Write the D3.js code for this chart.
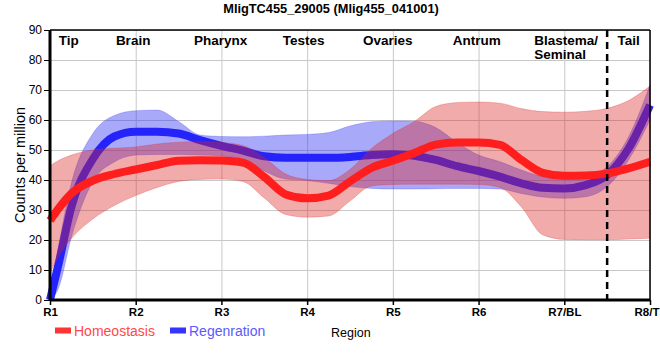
<!DOCTYPE html>
<html>
<head>
<meta charset="utf-8">
<script src="https://cdn.jsdelivr.net/npm/d3@7/dist/d3.min.js"></script>
<style>
  html, body { margin: 0; padding: 0; background: #fff; }
  svg { display: block; font-family: "Liberation Sans", Arial, sans-serif; }
</style>
</head>
<body>
<svg id="chart" width="660" height="360"></svg>
<script>
// ---- data ----
const title = "MligTC455_29005 (Mlig455_041001)";
const xTickValues = [1, 2, 3, 4, 5, 6, 7, 8];
const xTickLabels = ["R1", "R2", "R3", "R4", "R5", "R6", "R7/BL", "R8/TL"];
const yTickValues = [0, 10, 20, 30, 40, 50, 60, 70, 80, 90];
const regionNames = ["Tip", "Brain", "Pharynx", "Testes", "Ovaries", "Antrum", "Tail"];
const regionPos   = [1.22, 1.97, 2.99, 3.96, 4.94, 5.98, 7.75];
const blastemaLines = ["Blastema/", "Seminal"];
const blastemaPos = 6.65;
const dividerPos = 7.5;
const seriesNames = ["Homeostasis", "Regenration"];

const positions = [1, 1.1, 1.25, 1.5, 1.75, 2, 2.25, 2.5, 2.75, 3, 3.25, 3.5, 3.75, 4, 4.25,
                   4.5, 4.75, 5, 5.25, 5.5, 5.75, 6, 6.25, 6.5, 6.75, 7, 7.25, 7.5, 7.75, 8];

const homeoMean = [26.5, 30.5, 35.5, 39.8, 42, 43.5, 45, 46.4, 46.6, 46.5, 45.8, 41, 35.2, 33.9, 34.8,
                   39.5, 44, 46.4, 49, 51.8, 52.5, 52.5, 51.7, 46.7, 42.4, 41.4, 41.5, 42.2, 43.9, 46.1];
const homeoLow  = [9, 14.5, 20.5, 27, 31.5, 34.8, 37.5, 39.5, 40.2, 40.3, 39.5, 34, 28.5, 27.6, 28,
                   33, 38, 38.5, 38.6, 38.6, 38.6, 38.5, 37.5, 31, 21.7, 20.2, 20.1, 20.1, 20.3, 20.6];
const homeoHigh = [44.7, 46.5, 48.3, 50, 50.6, 51, 52, 52.6, 52.8, 52.5, 51.5, 47.5, 42, 40.2, 39.8,
                   43.5, 50.5, 55.5, 59.5, 64.5, 65.8, 66, 65.6, 63.8, 62.8, 62.6, 62.9, 63.9, 66.5, 71.3];

const regenMean = [0, 12, 31, 47, 54.5, 56.1, 56.1, 55.5, 53.3, 51.4, 49.8, 47.9, 47.4, 47.4, 47.4,
                   47.7, 48.3, 48.6, 48.1, 46.7, 44.6, 43, 41.1, 38.9, 37.4, 37.2, 38.3, 41.7, 50.5, 65];
const regenLow  = [0, 4, 21, 39.5, 46, 48.3, 48.5, 48.5, 48.3, 48, 47, 43, 40.3, 39.8, 38.9,
                   37.8, 37.2, 37, 37, 37.1, 37.2, 37.2, 37, 35.5, 34.3, 33.9, 34.4, 37.8, 46.7, 60];
const regenHigh = [2, 18, 39, 55.5, 61.5, 63.1, 63.3, 59.5, 55, 54.5, 54.4, 54.6, 55, 55.2, 55.8,
                   58, 59.4, 59.7, 59.6, 57.5, 52.5, 48.3, 46.1, 43.3, 41.1, 40.3, 41.1, 44.4, 54.4, 71.7];

// ---- layout ----
const svg = d3.select("#chart");
const M = { left: 50, right: 650, top: 30, bottom: 300 };
const x = d3.scaleLinear().domain([1, 8]).range([M.left, M.right]);
const y = d3.scaleLinear().domain([0, 90]).range([M.bottom, M.top]);

// gridlines
svg.append("g")
  .attr("transform", `translate(0,${M.bottom})`)
  .call(d3.axisBottom(x).tickValues(xTickValues).tickSize(-(M.bottom - M.top)).tickFormat(""))
  .call(g => g.select(".domain").remove())
  .call(g => g.selectAll("line").attr("stroke", "#c8c8c8").attr("stroke-width", 1));
svg.append("g")
  .attr("transform", `translate(${M.left},0)`)
  .call(d3.axisLeft(y).tickValues(yTickValues).tickSize(-(M.right - M.left)).tickFormat(""))
  .call(g => g.select(".domain").remove())
  .call(g => g.selectAll("line").attr("stroke", "#c8c8c8").attr("stroke-width", 1));

// series builders
const idx = d3.range(positions.length);
const curve = d3.curveMonotoneX;
const area = (lo, hi) => d3.area().curve(curve)
  .x(i => x(positions[i])).y0(i => y(lo[i])).y1(i => y(hi[i]));
const line = (m) => d3.line().curve(curve)
  .x(i => x(positions[i])).y(i => y(m[i]));

// blue band + line
svg.append("path").datum(idx).attr("d", area(regenLow, regenHigh))
  .attr("fill", "rgb(50,50,240)").attr("fill-opacity", 0.42)
  .attr("stroke", "rgb(50,50,240)").attr("stroke-opacity", 0.25).attr("stroke-width", 1);
svg.append("path").datum(idx).attr("d", line(regenMean))
  .attr("fill", "none").attr("stroke", "rgb(35,35,250)").attr("stroke-width", 8);

// red band + line
svg.append("path").datum(idx).attr("d", area(homeoLow, homeoHigh))
  .attr("fill", "rgb(220,35,35)").attr("fill-opacity", 0.38)
  .attr("stroke", "rgb(220,35,35)").attr("stroke-opacity", 0.25).attr("stroke-width", 1);
svg.append("path").datum(idx).attr("d", line(homeoMean))
  .attr("fill", "none").attr("stroke", "rgb(255,30,30)").attr("stroke-width", 8);

// frame (top/right thin)
svg.append("line").attr("x1", M.left).attr("x2", M.right).attr("y1", M.top).attr("y2", M.top)
  .attr("stroke", "#000").attr("stroke-width", 1.5);
svg.append("line").attr("x1", M.right).attr("x2", M.right).attr("y1", M.top).attr("y2", M.bottom)
  .attr("stroke", "#000").attr("stroke-width", 1.5);

// divider dashed line
svg.append("line").attr("x1", x(dividerPos)).attr("x2", x(dividerPos))
  .attr("y1", M.top).attr("y2", M.bottom + 6)
  .attr("stroke", "#000").attr("stroke-width", 2.5).attr("stroke-dasharray", "7,5");

// axes
const yAxis = svg.append("g").attr("transform", `translate(${M.left},0)`)
  .call(d3.axisLeft(y).tickValues(yTickValues).tickSize(6).tickPadding(2));
yAxis.select(".domain").attr("stroke-width", 3).attr("d", `M0,${M.top}V${M.bottom}`);
yAxis.selectAll("text").attr("font-size", 12).attr("fill", "#000")
  .attr("font-family", "Liberation Sans, Arial, sans-serif");

const xAxis = svg.append("g").attr("transform", `translate(0,${M.bottom})`)
  .call(d3.axisBottom(x).tickValues(xTickValues).tickSize(5).tickPadding(3)
    .tickFormat((d, i) => xTickLabels[i]));
xAxis.select(".domain").attr("stroke-width", 3).attr("d", `M${M.left},0H${M.right}`);
xAxis.selectAll("line").attr("stroke-width", 1.5);
xAxis.selectAll("text").attr("font-size", 11.5).attr("font-weight", "bold").attr("fill", "#000")
  .attr("font-family", "Liberation Sans, Arial, sans-serif");

// region labels
svg.append("g").selectAll("text").data(regionNames).join("text")
  .attr("x", (d, i) => x(regionPos[i])).attr("y", 45)
  .attr("text-anchor", "middle").attr("font-size", 13.5).attr("font-weight", "bold")
  .text(d => d);
svg.append("g").selectAll("text").data(blastemaLines).join("text")
  .attr("x", x(blastemaPos)).attr("y", (d, i) => 45 + i * 13.5)
  .attr("text-anchor", "start").attr("font-size", 13.5).attr("font-weight", "bold")
  .text(d => d);

// title
svg.append("text").attr("x", 331).attr("y", 13).attr("text-anchor", "middle")
  .attr("font-size", 12.8).attr("font-weight", "bold").text(title);

// axis titles
svg.append("text").attr("transform", "translate(25,165) rotate(-90)")
  .attr("text-anchor", "middle").attr("font-size", 14.5).text("Counts per million");
svg.append("text").attr("x", 331).attr("y", 336.5).attr("font-size", 12.5).text("Region");

// legend
const legendColors = ["#ff3535", "#3535ff"];
const legendText = ["#ff4848", "#5a5aff"];
const legendX = [55, 170];
const lg = svg.append("g");
lg.selectAll("rect").data(seriesNames).join("rect")
  .attr("x", (d, i) => legendX[i]).attr("y", 327.5).attr("width", 16).attr("height", 6)
  .attr("fill", (d, i) => legendColors[i]);
lg.selectAll("text").data(seriesNames).join("text")
  .attr("x", (d, i) => legendX[i] + 19).attr("y", 335.5)
  .attr("font-size", 14).attr("fill", (d, i) => legendText[i]).text(d => d);
</script>
</body>
</html>
